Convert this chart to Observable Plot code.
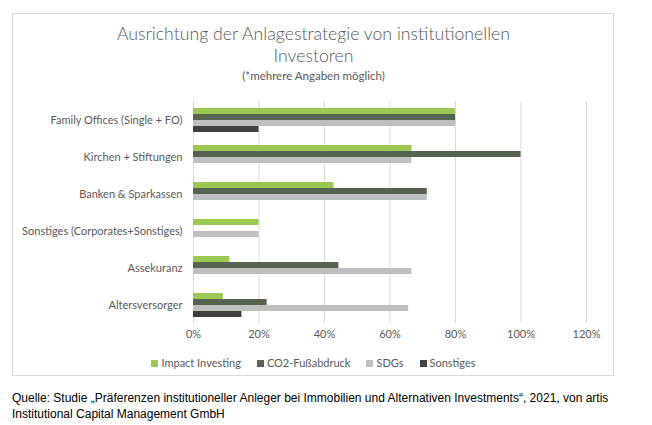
<!DOCTYPE html>
<html><head><meta charset="utf-8">
<script src="https://cdn.jsdelivr.net/npm/d3@7"></script>
<script src="https://cdn.jsdelivr.net/npm/@observablehq/plot@0.6"></script>
<style>
body{margin:0;background:#fff;}
#root{position:relative;width:652px;height:425px;font-family:Lato,"Open Sans",sans-serif;overflow:hidden;}
#frame{position:absolute;left:12px;top:13px;width:602px;height:363px;border:1px solid #d9d9d9;box-sizing:border-box;}
.t{position:absolute;left:12px;width:603px;text-align:center;color:#595959;white-space:nowrap;}
#title{top:23px;font-size:17.7px;line-height:22px;font-weight:300;}
#sub{top:69px;font-size:11.5px;line-height:14px;}
#chart{position:absolute;left:0;top:90px;}
#legend{position:absolute;left:12px;width:603px;top:356px;display:flex;justify-content:center;gap:16px;font-size:11px;color:#595959;line-height:14px;}
#legend .it{display:flex;align-items:center;gap:3px;}
#legend .sw{width:7px;height:7px;display:inline-block;}
#caption{position:absolute;left:12px;top:390px;font-family:"Liberation Sans",Arial,sans-serif;font-size:12px;line-height:16px;color:#000;width:630px;}
</style></head>
<body>
<div id="root">
  <div id="frame"></div>
  <div class="t" id="title">Ausrichtung der Anlagestrategie von institutionellen<br>Investoren</div>
  <div class="t" id="sub">(*mehrere Angaben möglich)</div>
  <div id="chart"></div>
  <div id="legend"></div>
  <div id="caption">Quelle: Studie „Präferenzen institutioneller Anleger bei Immobilien und Alternativen Investments“, 2021, von artis Institutional Capital Management GmbH</div>
</div>
<script>
const categories = ["Family Offices (Single + FO)", "Kirchen + Stiftungen", "Banken & Sparkassen", "Sonstiges (Corporates+Sonstiges)", "Assekuranz", "Altersversorger"];
const series = ["Impact Investing", "CO2-Fußabdruck", "SDGs", "Sonstiges"];
const colors = ["#9BC853", "#556350", "#BFBFBF", "#404040"];
const impactInvesting = [80, 66.7, 42.9, 20, 11.1, 9.1];
const co2Fussabdruck = [80, 100, 71.4, 0, 44.4, 22.5];
const sdgs = [80, 66.7, 71.4, 20, 66.7, 65.7];
const sonstiges = [20, 0, 0, 0, 0, 14.8];
const xTicks = [0, 20, 40, 60, 80, 100, 120];

const valuesBySeries = [impactInvesting, co2Fussabdruck, sdgs, sonstiges];
const data = [];
categories.forEach((c, i) => {
  series.forEach((s, j) => {
    const v = valuesBySeries[j][i];
    if (v > 0) data.push({category: c, series: s, value: v});
  });
});

const plot = Plot.plot({
  width: 652,
  height: 255,
  marginTop: 11,
  marginBottom: 22,
  marginLeft: 193,
  marginRight: 66,
  style: {fontFamily: "Lato, 'Open Sans', sans-serif", fontSize: "11px", color: "#595959", background: "transparent"},
  x: {domain: [0, 120], ticks: xTicks, tickFormat: d => d + "%", tickSize: 0, tickPadding: 7, label: null},
  y: {domain: series, axis: null, padding: 0, insetTop: 6, insetBottom: 6},
  fy: {domain: categories, padding: 0, axis: "left", tickSize: 0, tickPadding: 11, label: null},
  color: {domain: series, range: colors},
  marks: [
    Plot.ruleX(xTicks, {stroke: "#d9d9d9", strokeWidth: 1}),
    Plot.barX(data, {x: "value", y: "series", fy: "category", fill: "series"})
  ]
});
document.getElementById("chart").appendChild(plot);

const legend = document.getElementById("legend");
series.forEach((s, j) => {
  const it = document.createElement("span");
  it.className = "it";
  const sw = document.createElement("span");
  sw.className = "sw";
  sw.style.background = colors[j];
  const tx = document.createElement("span");
  tx.textContent = s;
  it.appendChild(sw); it.appendChild(tx);
  legend.appendChild(it);
});
</script>
</body></html>
